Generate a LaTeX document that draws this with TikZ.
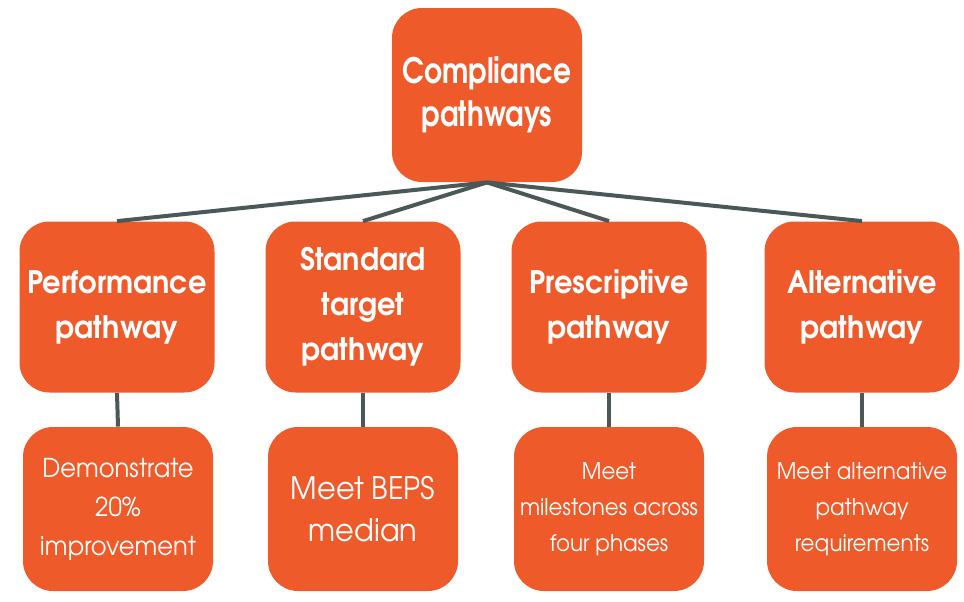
\documentclass[tikz,border=0pt]{standalone}
\usepackage{fontspec}
\setmainfont{TeX Gyre Adventor}[FakeStretch=0.93]
\newfontfamily\rootfont{TeX Gyre Adventor}[FakeStretch=0.8]
\usepackage{xcolor}
\definecolor{pathorange}{HTML}{EE5A2A}
\definecolor{linkgrey}{HTML}{4A5958}
\tikzstyle{pathbox} = [fill=pathorange, rounded corners=15pt, text=white,
    align=center, inner sep=2pt]
\tikzstyle{rootbox} = [pathbox, minimum width=95pt, minimum height=87pt,
    font=\rootfont\fontsize{17.5}{21.5}\selectfont\bfseries]
\tikzstyle{routebox} = [pathbox, minimum width=97.5pt, minimum height=85.5pt,
    font=\fontsize{15.5}{22.5}\selectfont\bfseries]
\tikzstyle{goalbox} = [pathbox, minimum width=95pt, minimum height=82pt,
    font=\fontsize{13}{19.5}\selectfont]
\tikzstyle{link} = [draw=linkgrey, line width=2pt]

\begin{document}
\begin{tikzpicture}[x=0.5pt, y=-0.5pt]
    \useasboundingbox (0,0) rectangle (964,601);
    \fill[white] (0,0) rectangle (964,601);
    \node [rootbox] (root) at (487,95) {Compliance\\pathways};
    \node [routebox] (perf) at (117,307) {Performance\\pathway};
    \node [routebox] (std) at (363,307) {Standard\\target\\pathway};
    \node [routebox] (presc) at (609,307) {Prescriptive\\pathway};
    \node [routebox] (alt) at (862,307) {Alternative\\pathway};
    \node [goalbox] (perfgoal) at (118,509) {Demonstrate\\20\%\\improvement};
    \node [goalbox, font=\fontsize{15.5}{21}\selectfont] (stdgoal) at (363,509) {Meet BEPS\\median};
    \node [goalbox, font=\fontsize{11.5}{18}\selectfont] (prescgoal) at (609,509) {Meet\\milestones across\\four phases};
    \node [goalbox, font=\fontsize{11.5}{18}\selectfont] (altgoal) at (862,509) {Meet alternative\\pathway\\requirements};
    \foreach \n in {perf,std,presc,alt}{
        \draw [link] (root.south) -- (\n.north);
        \draw [link] (\n.south) -- (\n goal.north);
    }
\end{tikzpicture}
\end{document}
